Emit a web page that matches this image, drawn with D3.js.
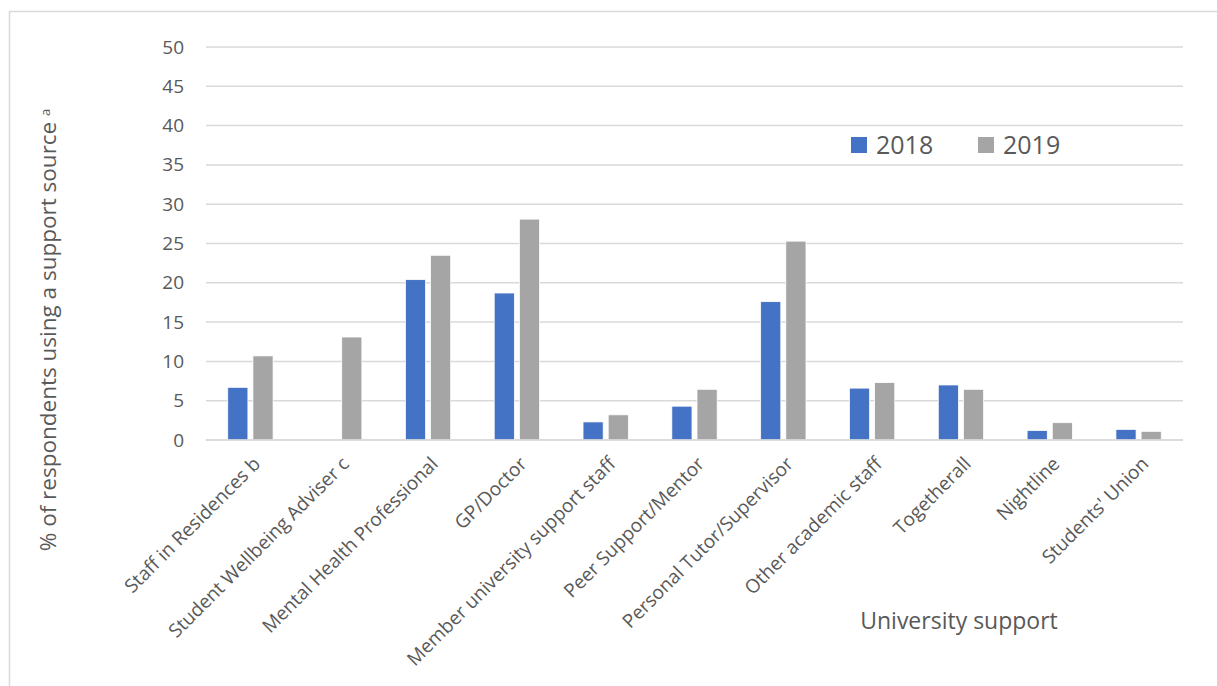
<!DOCTYPE html>
<html>

<head>
  <title>University support</title>
  <script src="https://cdn.jsdelivr.net/npm/d3@7"></script>
  <style type="text/css">
    body {
      margin: 0;
      background: #fff;
    }

    text {
      font-family: "Open Sans", sans-serif;
      fill: #595959;
    }
  </style>
</head>

<body>
  <div id="chartArea"></div>
  <script type="text/javascript">
    const categories = ['Staff in Residences b', 'Student Wellbeing Adviser c', 'Mental Health Professional',
      'GP/Doctor', 'Member university support staff', 'Peer Support/Mentor', 'Personal Tutor/Supervisor',
      'Other academic staff', 'Togetherall', 'Nightline', "Students' Union"];
    const seriesNames = ['2018', '2019'];
    const values2018 = [6.7, 0, 20.4, 18.7, 2.3, 4.3, 17.6, 6.6, 7.0, 1.2, 1.35];
    const values2019 = [10.7, 13.1, 23.5, 28.1, 3.2, 6.45, 25.3, 7.3, 6.45, 2.2, 1.1];
    const yTicks = [0, 5, 10, 15, 20, 25, 30, 35, 40, 45, 50];
    const colors = ['#4472C4', '#A5A5A5'];

    let W = 1217, H = 686;
    let margin = { top: 47, right: 34, bottom: 246, left: 206 };
    let w = W - margin.left - margin.right;
    let h = H - margin.top - margin.bottom;

    let dataset = categories.map((c, i) => ({ cat: c, vals: [values2018[i], values2019[i]] }));

    let svg = d3.select('#chartArea').append('svg')
      .attr('width', W)
      .attr('height', H);

    // outer frame (only top/left edges visible)
    svg.append('rect')
      .attr('x', 9.5).attr('y', 11.5)
      .attr('width', W + 50).attr('height', H + 50)
      .attr('fill', 'none')
      .attr('stroke', '#d9d9d9')
      .attr('stroke-width', 1.5);

    let g = svg.append('g')
      .attr('transform', `translate(${margin.left}, ${margin.top})`);

    let x0 = d3.scaleBand()
      .domain(categories)
      .range([0, w])
      .paddingInner(0.49)
      .paddingOuter(0.245);

    let x1 = d3.scaleBand()
      .domain(seriesNames)
      .range([0, x0.bandwidth()])
      .paddingInner(0.2);

    let yScale = d3.scaleLinear()
      .domain([0, 50])
      .range([h, 0]);

    // gridlines
    g.selectAll('.grid')
      .data(yTicks)
      .enter()
      .append('line')
      .attr('x1', 0)
      .attr('x2', w)
      .attr('y1', d => yScale(d))
      .attr('y2', d => yScale(d))
      .attr('stroke', '#d9d9d9')
      .attr('stroke-width', 1.5);

    // y axis labels
    let yAxis = g.append('g')
      .call(d3.axisLeft(yScale).tickValues(yTicks).tickSize(0).tickPadding(22));
    yAxis.select('.domain').remove();
    yAxis.selectAll('text')
      .style('font-size', '19px')
      .style('font-family', '"Open Sans", sans-serif')
      .attr('fill', '#595959');

    // bars
    let groups = g.selectAll('.cat')
      .data(dataset)
      .enter()
      .append('g')
      .attr('transform', d => `translate(${x0(d.cat)}, 0)`);

    groups.selectAll('rect')
      .data(d => d.vals.map((v, i) => ({ s: seriesNames[i], v: v, i: i })))
      .enter()
      .append('rect')
      .attr('x', d => x1(d.s))
      .attr('width', x1.bandwidth())
      .attr('y', d => yScale(d.v))
      .attr('height', d => h - yScale(d.v))
      .attr('fill', d => colors[d.i])
      .attr('stroke', d => d.v > 0 ? '#fff' : 'none')
      .attr('stroke-width', 0.75);

    // x axis line
    g.append('line')
      .attr('x1', 0).attr('x2', w)
      .attr('y1', h).attr('y2', h)
      .attr('stroke', '#d9d9d9')
      .attr('stroke-width', 1.5);

    // category labels
    g.selectAll('.catlabel')
      .data(categories)
      .enter()
      .append('text')
      .attr('transform', d => `translate(${x0(d) + x0.bandwidth() / 2 + 1}, ${h + 15}) rotate(-45)`)
      .attr('text-anchor', 'end')
      .attr('dy', '0.75em')
      .style('font-size', '19px')
      .text(d => d);

    // y axis title
    let yTitle = svg.append('text')
      .attr('transform', 'translate(56, 330) rotate(-90)')
      .attr('text-anchor', 'middle')
      .style('font-size', '22.5px');
    yTitle.append('tspan').text('% of respondents using a support source ');
    yTitle.append('tspan').attr('dy', '-0.5em').style('font-size', '13px').text('a');

    // x axis title
    svg.append('text')
      .attr('x', 959)
      .attr('y', 629)
      .attr('text-anchor', 'middle')
      .style('font-size', '23px')
      .text('University support');

    // legend
    let legend = svg.append('g')
      .selectAll('g')
      .data(seriesNames)
      .enter()
      .append('g')
      .attr('transform', (d, i) => `translate(${851 + i * 127}, 137)`);
    legend.append('rect')
      .attr('width', 16)
      .attr('height', 16)
      .attr('fill', (d, i) => colors[i]);
    legend.append('text')
      .attr('x', 25)
      .attr('y', 17)
      .style('font-size', '25px')
      .text(d => d);
  </script>
</body>

</html>
